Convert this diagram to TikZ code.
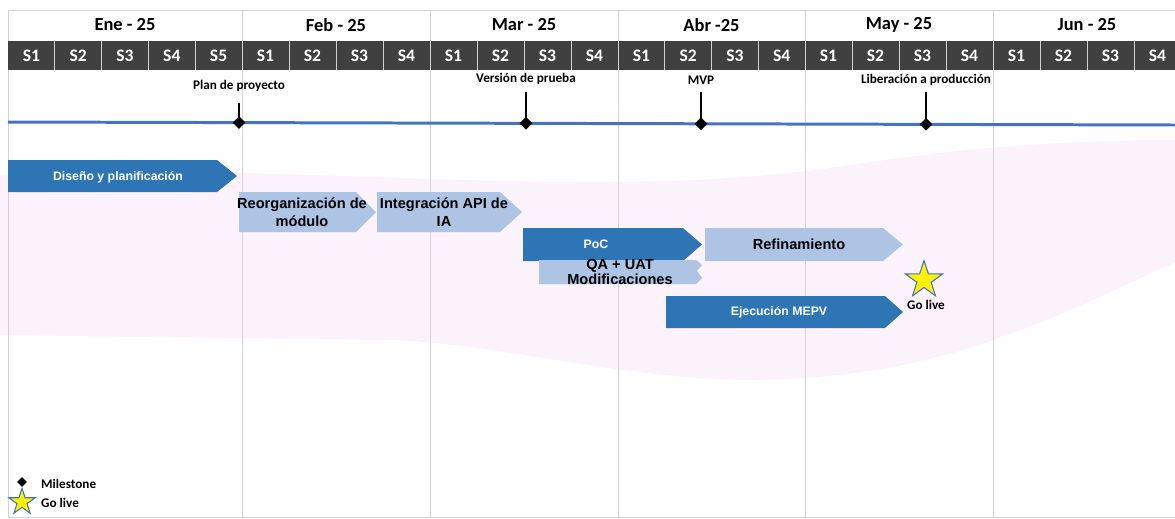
\documentclass[tikz,border=0pt]{standalone}
\usepackage{fontspec}
\setmainfont{Carlito}
\newfontfamily\arialfont{Liberation Sans}
\usetikzlibrary{shapes.geometric}
\definecolor{weekgray}{RGB}{64,64,64}
\definecolor{gridgray}{RGB}{210,210,210}
\definecolor{lineblue}{RGB}{68,114,196}
\definecolor{darkbar}{RGB}{46,117,182}
\definecolor{lightbar}{RGB}{174,196,228}
\definecolor{bgpink}{RGB}{251,242,251}
\begin{document}
\begin{tikzpicture}[x=0.02cm,y=-0.02cm,
  month/.style={font=\fontsize{10.5}{12}\selectfont\bfseries},
  week/.style={font=\fontsize{10}{12}\selectfont\bfseries,text=white},
  mslabel/.style={font=\fontsize{7.5}{9}\selectfont\bfseries},
  msdia/.style={diamond,fill=black,inner sep=0pt,minimum size=0.26cm},
  darklbl/.style={font=\arialfont\fontsize{7}{8}\selectfont\bfseries,text=white},
  lightlbl/.style={font=\arialfont\fontsize{8.3}{10.2}\selectfont\bfseries,align=center},
  golive/.style={star,star points=5,star point ratio=2.6,fill=yellow,draw=lineblue,line width=0.6pt,inner sep=0pt}]
\useasboundingbox (0,0) rectangle (1175,518);
% faint band behind the plan
\fill[bgpink] (0,175) .. controls (300,160) and (600,205) .. (850,165) .. controls (950,150) and (1050,140) .. (1175,140) -- (1175,262) .. controls (1050,320) and (950,370) .. (800,378) .. controls (650,390) and (500,340) .. (380,340) -- (0,335) -- cycle;
% frame, months and weeks
\draw[gridgray] (1175,10) -- (8,10) -- (8,517) -- (1175,517);
\foreach \x in {242,430,618,805,993} \draw[gridgray] (\x,10) -- (\x,517);
\fill[weekgray] (8,41) rectangle (1175,70);
\foreach \x/\w/\n/\m [count=\i] in {8/46.8/5/Ene - 25,242/47/4/Feb - 25,430/47/4/Mar - 25,618/46.75/4/Abr -25,805/47/4/May - 25,993/47/4/Jun - 25}{
  \node[month] (m\i) at ({\x+\n*\w/2},25) {\m};
  \foreach \k in {1,...,\n}{
    \node[week] (w\i-\k) at ({\x+(\k-0.5)*\w},55.5) {S\k};
    \draw[gridgray] ({\x+\k*\w},41) -- ++(0,29);
  }
}
% timeline and milestones
\draw[lineblue,line width=1.7pt] (8,122) -- (1175,125);
\foreach \x/\ly/\sy/\t [count=\i] in {239/86/103/Plan de proyecto,526/79/92/Versión de prueba,701/80/92/MVP,926/80/92/Liberación a producción}{
  \node[mslabel] (l\i) at (\x,\ly) {\t};
  \node[msdia] (d\i) at (\x,{122+3*(\x-8)/1167}) {};
  \coordinate (s\i) at (\x,\sy);
  \draw[line width=1.1pt] (s\i) -- (d\i.center);
}
% phases
\fill[darkbar] (8,160) -- (217,160) -- (237,176) -- (217,192) -- (8,192) -- cycle;
\node[darklbl] (diseno) at (118,177) {Diseño y planificación};
\fill[lightbar] (239,192) -- (356,192) -- (376,212) -- (356,232) -- (239,232) -- cycle;
\node[lightlbl] (reorg) at (302,212) {Reorganización de\\módulo};
\fill[lightbar] (377,192) -- (500,192) -- (522,212) -- (500,232) -- (377,232) -- cycle;
\node[lightlbl] (integ) at (444,212) {Integración API de\\IA};
\fill[darkbar] (523,228) -- (683,228) -- (702,244.5) -- (683,261) -- (523,261) -- cycle;
\node[darklbl] (poc) at (596,244) {PoC};
\fill[lightbar] (539,260) -- (696,260) -- (702,265) -- (697,271) -- (702,278) -- (696,284) -- (539,284) -- cycle;
\node[lightlbl,font=\arialfont\fontsize{8.3}{7.4}\selectfont\bfseries] (qa) at (620,272) {QA + UAT\\Modificaciones};
\fill[lightbar] (705,228) -- (883,228) -- (903,244.5) -- (883,261) -- (705,261) -- cycle;
\node[lightlbl] (refin) at (799,244) {Refinamiento};
\fill[darkbar] (666,296) -- (885,296) -- (903,312) -- (885,328) -- (666,328) -- cycle;
\node[darklbl] (mepv) at (779,312) {Ejecución MEPV};
\node[golive,minimum size=0.78cm] (star) at (924,280) {};
\node[mslabel] (golive) at (926,305) {Go live};
% legend
\node[msdia,minimum size=0.2cm] (legdia) at (22,482) {};
\node[mslabel,anchor=west] (legms) at (35,484) {Milestone};
\node[golive,minimum size=0.55cm] (legstar) at (22,502) {};
\node[mslabel,anchor=west] (leggo) at (35,503) {Go live};
\end{tikzpicture}
\end{document}
